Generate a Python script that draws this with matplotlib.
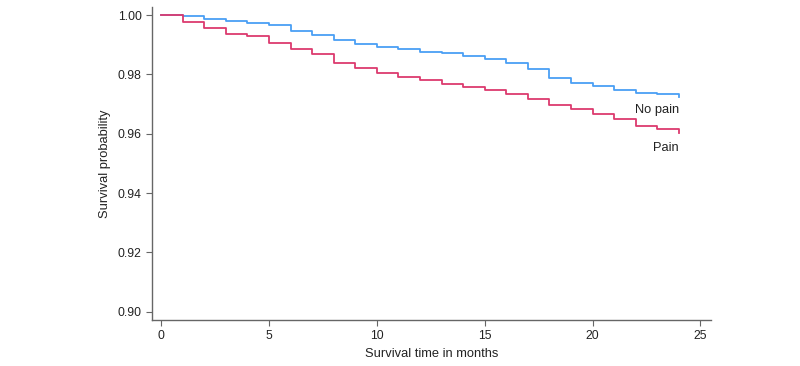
import matplotlib
matplotlib.use('Agg')
import matplotlib.pyplot as plt
import numpy as np

plt.rcParams['font.family'] = ['Liberation Sans', 'DejaVu Sans']

# ── Data (Kaplan-Meier step estimates, monthly) ──────────────
months = list(range(0, 25))
no_pain = [1.0000, 0.9996, 0.9988, 0.9981, 0.9973, 0.9966, 0.9947, 0.9933,
           0.9917, 0.9903, 0.9892, 0.9885, 0.9877, 0.9871, 0.9863, 0.9852,
           0.9837, 0.9818, 0.9788, 0.9772, 0.9760, 0.9749, 0.9738, 0.9734,
           0.9725]
pain = [1.0000, 0.9975, 0.9957, 0.9937, 0.9930, 0.9907, 0.9887, 0.9868,
        0.9839, 0.9822, 0.9805, 0.9791, 0.9781, 0.9768, 0.9758, 0.9747,
        0.9735, 0.9716, 0.9698, 0.9684, 0.9667, 0.9650, 0.9626, 0.9617,
        0.9602]

BLUE = "#4a9ff5"
RED = "#dc3a6e"
AXIS = "#666666"
TEXT = "#222222"

fig = plt.figure(figsize=(8, 3.66), dpi=100)
ax = fig.add_axes([0.19, 0.1257, 0.699, 0.855])

ax.step(months, no_pain, where="post", color=BLUE, linewidth=1.3)
ax.step(months, pain, where="post", color=RED, linewidth=1.3)

ax.text(months[-1], no_pain[-1] - 0.0046, "No pain", ha="right", va="center",
        fontsize=9.3, color=TEXT)
ax.text(months[-1], pain[-1] - 0.0049, "Pain", ha="right", va="center",
        fontsize=9.3, color=TEXT)

ax.set_xlim(-0.42, 25.5)
ax.set_ylim(0.8972, 1.0027)
ax.set_xticks([0, 5, 10, 15, 20, 25])
ax.set_yticks([0.90, 0.92, 0.94, 0.96, 0.98, 1.00])
ax.set_yticklabels([f"{v:.2f}" for v in [0.90, 0.92, 0.94, 0.96, 0.98, 1.00]])

ax.set_xlabel("Survival time in months", fontsize=9.3, color=TEXT, labelpad=4)
ax.set_ylabel("Survival probability", fontsize=9.3, color=TEXT, labelpad=5)

for side in ["top", "right"]:
    ax.spines[side].set_visible(False)
for side in ["left", "bottom"]:
    ax.spines[side].set_color(AXIS)
    ax.spines[side].set_linewidth(1.0)
ax.tick_params(colors=AXIS, labelcolor=TEXT, labelsize=8.7, length=4, width=0.8)

plt.savefig("out.png", dpi=100)
plt.close()
